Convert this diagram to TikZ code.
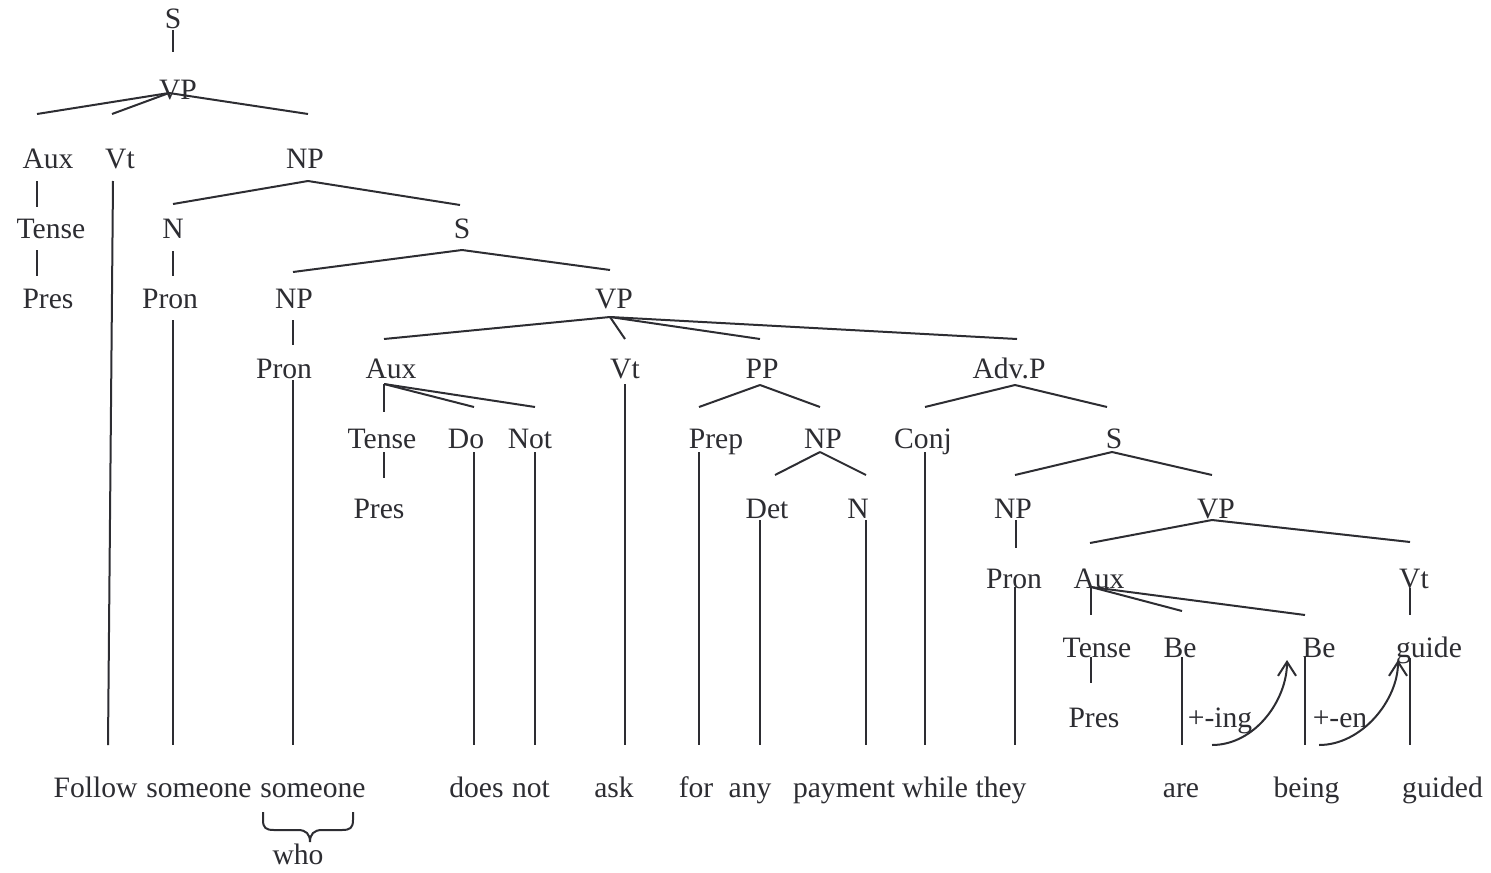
\documentclass[tikz,border=0pt]{standalone}
\usepackage{fontspec}
\setmainfont{Liberation Serif}
\usetikzlibrary{calc,arrows.meta}
\definecolor{ink}{RGB}{45,45,50}
% branch from an offset of one node's baseline point to an offset of another's
\newcommand{\treeedge}[6]{\draw[branch] ($(#1.base)+(#2,#3)$) -- ($(#4.base)+(#5,#6)$);}
\begin{document}
\begin{tikzpicture}[x=0.5pt,y=-0.5pt,
  lbl/.style={inner sep=0pt,anchor=base,text=ink,font=\fontsize{14.8}{17}\selectfont},
  branch/.style={draw=ink,line width=1pt},
  movearrow/.style={branch,-{Straight Barb[length=7pt,width=9pt,line width=1pt]}}]
\useasboundingbox (0,0) rectangle (1491,872);

% ---- category labels, one row per level ----
\node[lbl] (s1) at (173,29) {S};
\node[lbl] (vp2) at (178,99) {VP};
\node[lbl] (aux3) at (48,168) {Aux};
\node[lbl] (vt3) at (120,168) {Vt};
\node[lbl] (np3) at (305,168) {NP};
\node[lbl] (tense4) at (51,238) {Tense};
\node[lbl] (n4) at (173,238) {N};
\node[lbl] (s4) at (462,238) {S};
\node[lbl] (pres5) at (48,308) {Pres};
\node[lbl] (pron5) at (170,308) {Pron};
\node[lbl] (np5) at (294,308) {NP};
\node[lbl] (vp5) at (614,308) {VP};
\node[lbl] (pron6) at (284,378) {Pron};
\node[lbl] (aux6) at (391,378) {Aux};
\node[lbl] (vt6) at (625,378) {Vt};
\node[lbl] (pp6) at (762,378) {PP};
\node[lbl] (advp6) at (1009,378) {Adv.P};
\node[lbl] (tense7) at (382,448) {Tense};
\node[lbl] (do7) at (466,448) {Do};
\node[lbl] (not7) at (530,448) {Not};
\node[lbl] (prep7) at (716,448) {Prep};
\node[lbl] (np7) at (823,448) {NP};
\node[lbl] (conj7) at (923,448) {Conj};
\node[lbl] (s7) at (1114,448) {S};
\node[lbl] (pres8) at (379,518) {Pres};
\node[lbl] (det8) at (767,518) {Det};
\node[lbl] (n8) at (858,518) {N};
\node[lbl] (np8) at (1013,518) {NP};
\node[lbl] (vp8) at (1216,518) {VP};
\node[lbl] (pron9) at (1014,588) {Pron};
\node[lbl] (aux9) at (1099,588) {Aux};
\node[lbl] (vt9) at (1414,588) {Vt};
\node[lbl] (tense10) at (1097,657) {Tense};
\node[lbl] (be10) at (1180,657) {Be};
\node[lbl] (be10b) at (1319,657) {Be};
\node[lbl] (guide10) at (1429,657) {guide};
\node[lbl] (pres11) at (1094,727) {Pres};
\node[lbl] (ing11) at (1220,727) {+-ing};
\node[lbl] (en11) at (1340,727) {+-en};

% ---- the sentence ----
\node[lbl] (wfollow) at (95.5,797) {Follow};
\node[lbl] (wsome1) at (199,797) {someone};
\node[lbl] (wsome2) at (313,797) {someone};
\node[lbl] (wdoes) at (476.5,797) {does};
\node[lbl] (wnot) at (531,797) {not};
\node[lbl] (wask) at (614,797) {ask};
\node[lbl] (wfor) at (696,797) {for};
\node[lbl] (wany) at (750,797) {any};
\node[lbl] (wpay) at (844,797) {payment};
\node[lbl] (wwhile) at (935,797) {while};
\node[lbl] (wthey) at (1001,797) {they};
\node[lbl] (ware) at (1181,797) {are};
\node[lbl] (wbeing) at (1306.5,797) {being};
\node[lbl] (wguided) at (1442.5,797) {guided};
\node[lbl] (who) at (298,864) {who};

% ---- branches ----
\treeedge{s1}{0}{1}{vp2}{-5}{-47}
\treeedge{vp2}{-9}{-6}{aux3}{-11}{-54}
\treeedge{vp2}{-9}{-6}{vt3}{-8}{-54}
\treeedge{vp2}{-9}{-6}{np3}{3}{-54}
\treeedge{aux3}{-11}{13}{tense4}{-14}{-31}
\treeedge{tense4}{-14}{12}{pres5}{-11}{-32}
\treeedge{vt3}{-7}{13}{wfollow}{12.5}{-52}
\treeedge{np3}{3}{13}{n4}{0}{-34}
\treeedge{np3}{3}{13}{s4}{-2}{-33}
\treeedge{n4}{0}{13}{pron5}{3}{-32}
\treeedge{pron5}{3}{12}{wsome1}{-26}{-52}
\treeedge{s4}{0}{12}{np5}{-1}{-36}
\treeedge{s4}{0}{12}{vp5}{-4}{-38}
\treeedge{np5}{-1}{12}{pron6}{9}{-33}
\treeedge{pron6}{9}{2}{wsome2}{-20}{-52}
\treeedge{vp5}{-4}{9}{aux6}{-7}{-39}
\treeedge{vp5}{-4}{9}{vt6}{0}{-39}
\treeedge{vp5}{-4}{9}{pp6}{-2}{-39}
\treeedge{vp5}{-4}{9}{advp6}{8}{-39}
\treeedge{aux6}{-7}{6}{tense7}{2}{-36}
\treeedge{aux6}{-7}{6}{do7}{8}{-41}
\treeedge{aux6}{-7}{6}{not7}{5}{-41}
\treeedge{tense7}{2}{4}{pres8}{5}{-40}
\treeedge{do7}{8}{4}{wdoes}{-2.5}{-52}
\treeedge{not7}{5}{4}{wnot}{4}{-52}
\treeedge{vt6}{0}{6}{wask}{11}{-52}
\treeedge{pp6}{-2}{7}{prep7}{-17}{-41}
\treeedge{pp6}{-2}{7}{np7}{-3}{-41}
\treeedge{prep7}{-17}{4}{wfor}{3}{-52}
\treeedge{np7}{-3}{4}{det8}{8}{-43}
\treeedge{np7}{-3}{4}{n8}{8}{-43}
\treeedge{det8}{-7}{2}{wany}{10}{-52}
\treeedge{n8}{8}{2}{wpay}{22}{-52}
\treeedge{advp6}{6}{7}{conj7}{2}{-41}
\treeedge{advp6}{6}{7}{s7}{-7}{-41}
\treeedge{conj7}{2}{4}{wwhile}{-10}{-52}
\treeedge{s7}{-2}{4}{np8}{2}{-43}
\treeedge{s7}{-2}{4}{vp8}{-4}{-43}
\treeedge{np8}{3}{2}{pron9}{2}{-40}
\treeedge{pron9}{1}{-1}{wthey}{14}{-52}
\treeedge{vp8}{-4}{2}{aux9}{-9}{-45}
\treeedge{vp8}{-4}{2}{vt9}{-4}{-46}
\treeedge{aux9}{-8}{-1}{tense10}{-6}{-42}
\treeedge{aux9}{-8}{-1}{be10}{2}{-46}
\treeedge{aux9}{-8}{-1}{be10b}{-14}{-42}
\treeedge{vt9}{-4}{0}{guide10}{-19}{-42}
\treeedge{tense10}{-6}{0}{pres11}{-3}{-44}
\treeedge{be10}{2}{0}{ware}{1}{-52}
\treeedge{be10b}{-14}{0}{wbeing}{-1.5}{-52}
\treeedge{guide10}{-19}{1}{wguided}{-32.5}{-52}

% ---- affix hopping arrows ----
\draw[movearrow] ($(ing11.base)+(-8,18)$) .. controls ($(ing11.base)+(35,18)$) and ($(be10b.base)+(-32,43)$) .. ($(be10b.base)+(-32,3)$);
\draw[movearrow] ($(en11.base)+(-21,18)$) .. controls ($(en11.base)+(22,18)$) and ($(guide10.base)+(-31,43)$) .. ($(guide10.base)+(-31,3)$);

% ---- brace under the second "someone", pointing at "who" ----
\begin{scope}[shift={(wsome2.base)}]
\draw[branch] (-50,15) -- (-50,23) .. controls (-50,31) and (-47,33) .. (-39,33)
  -- (-15,33) .. controls (-7,33) and (-3,37) .. (-3,45)
  .. controls (-3,37) and (1,33) .. (9,33) -- (29,33)
  .. controls (37,33) and (40,31) .. (40,23) -- (40,15);
\end{scope}
\end{tikzpicture}
\end{document}
